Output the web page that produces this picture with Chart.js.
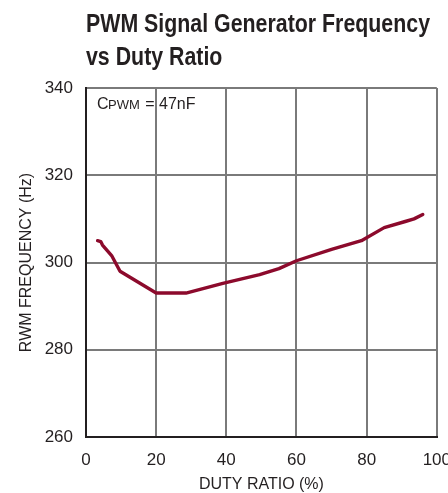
<!DOCTYPE html>
<html><head><meta charset="utf-8">
<script src="https://cdn.jsdelivr.net/npm/chart.js@4"></script>
<style>
html,body{margin:0;padding:0;overflow:hidden;background:#fff;width:448px;height:493px;}
#wrap{position:relative;width:464px;height:493px;}
#title{position:absolute;left:86px;top:7px;font-family:'Liberation Sans',Arial,sans-serif;font-weight:bold;font-size:25px;line-height:33px;color:#231f20;white-space:nowrap;transform-origin:0 0;}
#title span{display:inline-block;}
canvas{position:absolute;left:0;top:0;}
</style></head><body>
<div id="wrap">
<canvas id="c" width="464" height="493"></canvas>
<div id="title"><span id="t1">PWM Signal Generator Frequency</span><br><span>vs Duty Ratio</span></div>
</div>
<script>
const dutyRatio = [3.3, 4.2, 4.7, 7.3, 9.7, 20, 28.5, 39, 49.5, 55, 60, 70, 78.5, 85, 91, 93.5, 96];
const frequency = [305, 304.8, 304, 301.6, 298, 293, 293, 295.2, 297.2, 298.6, 300.4, 303, 305, 308, 309.4, 310, 311];
const xTicks = [0, 20, 40, 60, 80, 100];
const yTicks = [260, 280, 300, 320, 340];
const FONT = "'Liberation Sans',Arial,sans-serif";

// condense the title to the reference width (narrow font not installed)
const t1 = document.getElementById('t1');
const sx = 344 / t1.getBoundingClientRect().width;
document.getElementById('title').style.transform = 'scaleX(' + sx + ')';

const annot = {
  id: 'annot',
  afterDraw(chart) {
    const ctx = chart.ctx;
    const a = chart.chartArea;
    ctx.save();
    ctx.fillStyle = '#231f20';
    ctx.textBaseline = 'alphabetic';
    let x = a.left + 11, y = a.top + 21;
    ctx.font = '16px ' + FONT;
    ctx.fillText('C', x, y); x += ctx.measureText('C').width - 0.5;
    ctx.font = '13px ' + FONT;
    ctx.fillText('PWM', x, y); x += ctx.measureText('PWM').width + 1;
    ctx.font = '16px ' + FONT;
    ctx.fillText(' = 47nF', x, y);
    ctx.restore();
  }
};

new Chart(document.getElementById('c'), {
  type: 'line',
  data: { datasets: [{
    data: dutyRatio.map((d, i) => ({ x: d, y: frequency[i] })),
    borderColor: '#8c0a2c', borderWidth: 3.4, pointRadius: 0, tension: 0,
    borderCapStyle: 'round', borderJoinStyle: 'round', fill: false
  }]},
  options: {
    responsive: false, animation: false,
    layout: { padding: { left: 0, right: 23, top: 88, bottom: 0 } },
    plugins: { legend: { display: false }, tooltip: { enabled: false } },
    scales: {
      x: {
        type: 'linear', min: 0, max: 100,
        afterBuildTicks: s => { s.ticks = xTicks.map(v => ({ value: v })); },
        afterFit: s => { s.height = 56; },
        grid: { color: '#7a7a7a', lineWidth: 2, drawTicks: false },
        border: { color: '#231f20', width: 2 },
        ticks: { padding: 13, color: '#231f20', font: { family: FONT, size: 17 }, maxRotation: 0 },
        title: { display: true, text: 'DUTY RATIO (%)', color: '#231f20', font: { family: FONT, size: 16 }, padding: { top: 0, bottom: -1 } }
      },
      y: {
        type: 'linear', min: 260, max: 340,
        afterBuildTicks: s => { s.ticks = yTicks.map(v => ({ value: v })); },
        afterFit: s => { s.width = 86; },
        grid: { color: '#7a7a7a', lineWidth: 2, drawTicks: false },
        border: { color: '#231f20', width: 2 },
        ticks: { padding: 13, color: '#231f20', font: { family: FONT, size: 17 } },
        title: { display: true, text: 'RWM FREQUENCY (Hz)', color: '#231f20', font: { family: FONT, size: 16 }, padding: { top: 17, bottom: 0 } }
      }
    }
  },
  plugins: [annot]
});
</script>
</body></html>
